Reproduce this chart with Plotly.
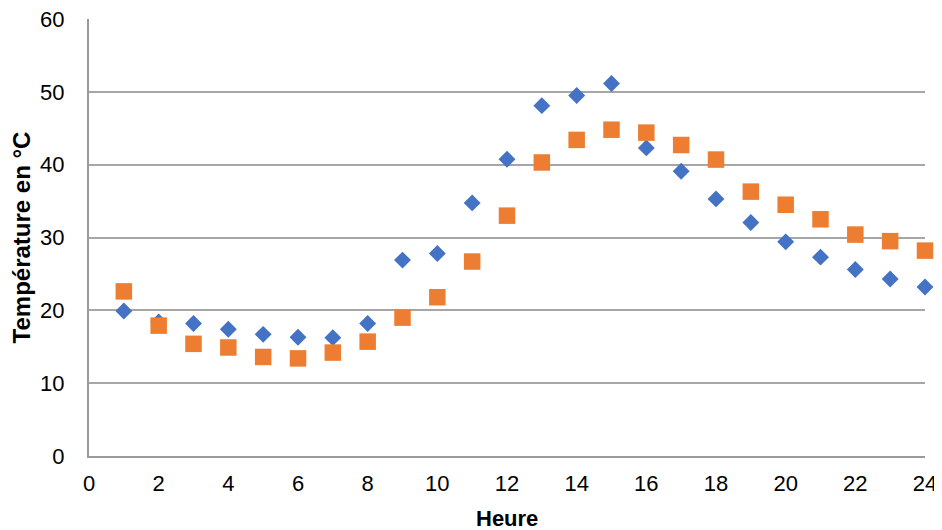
import plotly.graph_objects as go

hours = list(range(1, 25))
serie_bleue = [19.9, 18.4, 18.2, 17.4, 16.7, 16.3, 16.25, 18.2, 26.9, 27.8, 34.75, 40.75,
               48.1, 49.5, 51.15, 42.3, 39.1, 35.3, 32.05, 29.4, 27.3, 25.6, 24.3, 23.2]
serie_orange = [22.6, 17.9, 15.4, 14.9, 13.6, 13.4, 14.2, 15.7, 19.0, 21.8, 26.7, 33.0,
                40.3, 43.4, 44.8, 44.4, 42.7, 40.7, 36.3, 34.5, 32.5, 30.4, 29.5, 28.2]
x_ticks = list(range(0, 25, 2))
y_ticks = list(range(0, 61, 10))

fig = go.Figure()
fig.add_trace(go.Scatter(x=hours, y=serie_bleue, mode="markers",
                         marker=dict(symbol="diamond", size=13, color="#4472C4"),
                         showlegend=False, cliponaxis=False))
fig.add_trace(go.Scatter(x=hours, y=serie_orange, mode="markers",
                         marker=dict(symbol="square", size=16.5, color="#ED7D31"),
                         showlegend=False, cliponaxis=False))

fig.update_layout(
    width=934, height=522,
    margin=dict(l=81, r=17, t=11, b=74),
    paper_bgcolor="white", plot_bgcolor="white",
    font=dict(family="Liberation Sans, Arial, sans-serif", size=22, color="#000000"),
)
fig.add_annotation(text="<b>Heure</b>", xref="paper", yref="paper", x=0.5, y=0,
                   xanchor="center", yanchor="top", yshift=-48, showarrow=False,
                   font=dict(size=22))
fig.update_xaxes(range=[0, 24], tickvals=x_ticks, showgrid=False, zeroline=False,
                 showline=True, linecolor="#9a9a9a", linewidth=2,
                 ticks="outside", ticklen=7, tickcolor="rgba(0,0,0,0)",
                 tickfont=dict(size=22), automargin=False, ticklabeloverflow="allow")
fig.update_yaxes(range=[0, 60], tickvals=y_ticks, showgrid=True, gridcolor="#a6a6a6",
                 gridwidth=1.5, zeroline=False, showline=True, linecolor="#9a9a9a",
                 linewidth=2,
                 title=dict(text="<b>Température en °C</b>", font=dict(size=24), standoff=6),
                 ticks="outside", ticklen=18, tickcolor="rgba(0,0,0,0)",
                 tickfont=dict(size=22), automargin=False, ticklabeloverflow="allow")

fig.write_html("out.html")
